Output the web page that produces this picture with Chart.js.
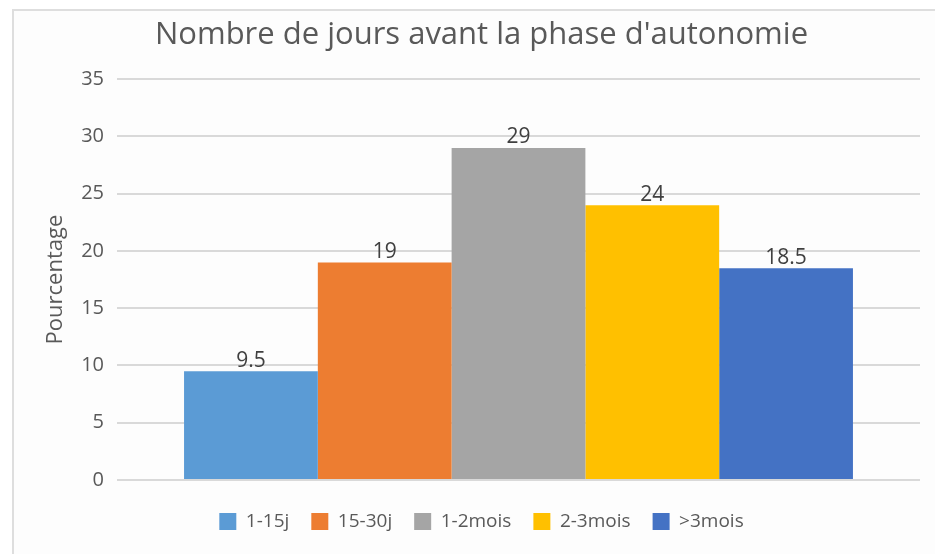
<!DOCTYPE html>
<html>
<head>
<meta charset="utf-8">
<script src="https://cdn.jsdelivr.net/npm/chart.js@4"></script>
<style>
  body { margin: 0; background: #ffffff; }
  #frame {
    position: absolute; left: 12px; top: 9px;
    width: 923px; height: 545px;
    border-left: 2px solid #dedede; border-top: 2px solid #dedede;
    background: #fdfdfd;
  }
</style>
</head>
<body>
<div id="frame"><canvas id="chart" width="921" height="543"></canvas></div>
<script>
const categories = ['1-15j', '15-30j', '1-2mois', '2-3mois', '>3mois']
const values = [9.5, 19, 29, 24, 18.5]
const colors = ['#5b9bd5', '#ed7d31', '#a5a5a5', '#ffc000', '#4472c4']
const yTicks = [0, 5, 10, 15, 20, 25, 30, 35]

const fontFamily = '"Open Sans", "Liberation Sans", sans-serif'

// un dataset par catégorie pour avoir la légende
const datasets = categories.map((name, i) => ({
  label: name,
  data: [values[i]],
  backgroundColor: colors[i],
  borderWidth: 0,
  barPercentage: 1.0,
  categoryPercentage: 0.833,
}))

// étiquettes de valeur au-dessus des barres
const valueLabels = {
  id: 'valueLabels',
  afterDatasetsDraw(chart) {
    const { ctx } = chart
    ctx.save()
    ctx.font = '21px ' + fontFamily
    ctx.fillStyle = '#404040'
    ctx.textAlign = 'center'
    ctx.textBaseline = 'bottom'
    chart.data.datasets.forEach((ds, i) => {
      const bar = chart.getDatasetMeta(i).data[0]
      ctx.fillText(String(ds.data[0]), bar.x, bar.y)
    })
    ctx.restore()
  },
}

new Chart(document.getElementById('chart').getContext('2d'), {
  type: 'bar',
  data: { labels: [''], datasets: datasets },
  options: {
    responsive: false,
    animation: false,
    layout: { padding: { left: 29, right: 15, top: 6, bottom: 13 } },
    plugins: {
      title: {
        display: true,
        text: "Nombre de jours avant la phase d'autonomie",
        color: '#595959',
        font: { family: fontFamily, size: 31, weight: 'normal' },
        padding: { top: 0, bottom: 25 },
      },
      legend: {
        position: 'bottom',
        labels: {
          color: '#595959',
          font: { family: fontFamily, size: 19 },
          boxWidth: 17,
          boxHeight: 17,
          padding: 22,
        },
      },
      tooltip: { enabled: false },
    },
    scales: {
      x: {
        ticks: { display: false },
        grid: { display: false },
        border: { display: false },
        afterFit(scale) {
          scale.height = 10
        },
      },
      y: {
        min: 0,
        max: 35,
        afterBuildTicks(scale) {
          scale.ticks = yTicks.map(v => ({ value: v }))
        },
        afterFit(scale) {
          scale.width = 74
        },
        ticks: {
          color: '#595959',
          font: { family: fontFamily, size: 20 },
          padding: 13,
        },
        grid: { color: '#d9d9d9', lineWidth: 2, drawTicks: false },
        border: { display: false },
        title: {
          display: true,
          text: 'Pourcentage',
          color: '#595959',
          font: { family: fontFamily, size: 22 },
          padding: 0,
        },
      },
    },
  },
  plugins: [valueLabels],
})
</script>
</body>
</html>
